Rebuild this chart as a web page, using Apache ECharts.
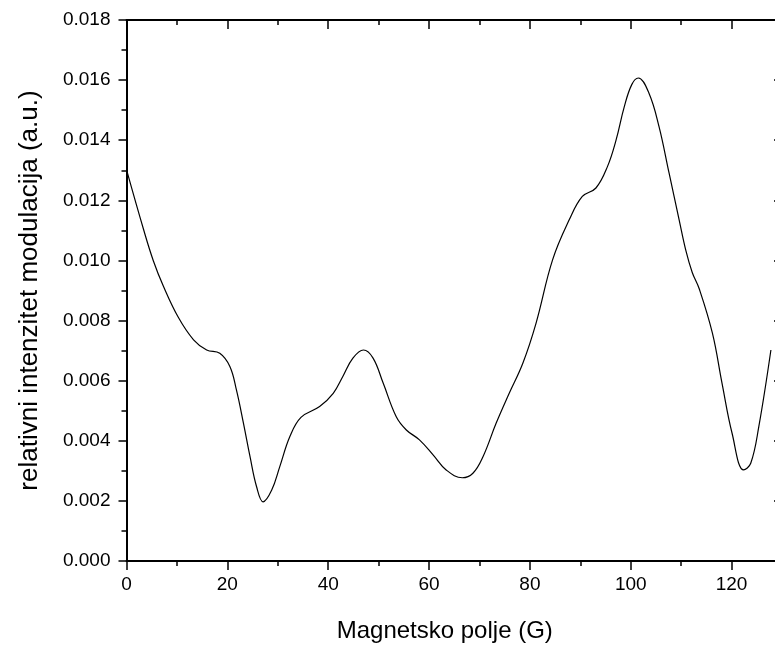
<!DOCTYPE html>
<html>
<head>
<meta charset="utf-8">
<title>Magnetsko polje</title>
<script src="https://cdn.jsdelivr.net/npm/echarts@6/dist/echarts.min.js"></script>
<style>
  html, body { margin: 0; padding: 0; background: #fff; }
  #chart { width: 775px; height: 648px; }
</style>
</head>
<body>
<div id="chart"></div>
<script>
// polje (G)
const fieldX = [
  0, 3.4, 5.3, 7.3, 10.3, 13.3, 15.9, 18.5, 20.5, 21.8, 23.2, 24.5, 25.8, 27.1,
  28.8, 30.4, 32.4, 34.6, 38.3, 41.0, 42.9, 44.9, 47.0, 48.9, 50.9, 53.5, 55.5,
  58.1, 60.8, 63.4, 66.6, 68.7, 70.7, 73.3, 75.9, 78.6, 81.2, 84.5, 87.8, 90.4,
  93.1, 95.4, 97.1, 98.7, 100.2, 101.5, 103.6, 105.6, 107.6, 109.6, 110.9, 112.2,
  113.6, 116.2, 118.1, 120.1, 122.4, 123.8, 125.4, 127.8
]
// relativni intenzitet
const intensity = [
  0.01302, 0.01102, 0.01000, 0.00915, 0.00810, 0.00736, 0.00702, 0.00691, 0.00647,
  0.00569, 0.00458, 0.00347, 0.00247, 0.00197, 0.00236, 0.00314, 0.00414, 0.00478,
  0.00514, 0.00558, 0.00614, 0.00675, 0.00702, 0.00675, 0.00592, 0.00480, 0.00436,
  0.00403, 0.00353, 0.00303, 0.00277, 0.00292, 0.00347, 0.00458, 0.00558, 0.00658,
  0.00790, 0.01002, 0.01135, 0.01213, 0.01241, 0.01313, 0.01401, 0.01510, 0.01585,
  0.01607, 0.01557, 0.01446, 0.01291, 0.01135, 0.01035, 0.00960, 0.00905, 0.00758,
  0.00592, 0.00425, 0.00303, 0.00325, 0.00447, 0.00702
]

const font = 'Arial, "Liberation Sans", sans-serif'
const axisLine = { show: true, onZero: false, lineStyle: { color: '#000', width: 2 } }

const chart = echarts.init(document.getElementById('chart'))
const option = {
  animation: false,
  backgroundColor: '#fff',
  grid: {
    left: 126.5,
    right: -7,
    top: 20,
    bottom: 87,
    containLabel: false,
    outerBoundsMode: 'none'
  },
  xAxis: [
    {
      type: 'value',
      position: 'bottom',
      min: 0,
      max: 130,
      interval: 20,
      name: 'Magnetsko polje (G)',
      nameLocation: 'middle',
      nameGap: 58,
      nameTextStyle: { fontFamily: font, fontSize: 24, color: '#000', padding: [0, 19, 0, 0] },
      axisLine: axisLine,
      axisTick: { show: true, length: 9, lineStyle: { color: '#000', width: 1.5 } },
      minorTick: { show: true, splitNumber: 2, length: 5, lineStyle: { color: '#000', width: 1.5 } },
      axisLabel: { fontFamily: font, fontSize: 19, color: '#000', margin: 14, showMaxLabel: false },
      splitLine: { show: false }
    },
    {
      type: 'value',
      position: 'top',
      min: 0,
      max: 130,
      interval: 20,
      axisLine: axisLine,
      axisTick: { show: true, inside: true, length: 9, lineStyle: { color: '#000', width: 1.5 } },
      minorTick: { show: true, splitNumber: 2, length: 5, lineStyle: { color: '#000', width: 1.5 } },
      axisLabel: { show: false },
      splitLine: { show: false }
    }
  ],
  yAxis: [
    {
      type: 'value',
      position: 'left',
      min: 0,
      max: 0.018,
      interval: 0.002,
      name: 'relativni intenzitet modulacija (a.u.)',
      nameLocation: 'middle',
      nameRotate: 90,
      nameGap: 84,
      nameTextStyle: { fontFamily: font, fontSize: 26, color: '#000' },
      axisLine: axisLine,
      axisTick: { show: true, length: 8, lineStyle: { color: '#000', width: 1.5 } },
      minorTick: { show: true, splitNumber: 2, length: 5, lineStyle: { color: '#000', width: 1.5 } },
      axisLabel: {
        fontFamily: font,
        fontSize: 19,
        color: '#000',
        margin: 16,
        formatter: (v) => v.toFixed(3)
      },
      splitLine: { show: false }
    },
    {
      type: 'value',
      position: 'right',
      min: 0,
      max: 0.018,
      interval: 0.002,
      axisLine: axisLine,
      axisTick: { show: true, inside: true, length: 8, lineStyle: { color: '#000', width: 1.5 } },
      minorTick: { show: true, splitNumber: 2, length: 5, lineStyle: { color: '#000', width: 1.5 } },
      axisLabel: { show: false },
      splitLine: { show: false }
    }
  ],
  series: [
    {
      type: 'line',
      xAxisIndex: 0,
      yAxisIndex: 0,
      data: fieldX.map((x, i) => [x, intensity[i]]),
      smooth: 0.4,
      showSymbol: false,
      lineStyle: { color: '#000', width: 1.2 },
      clip: true
    }
  ]
}
chart.setOption(option)
</script>
</body>
</html>
